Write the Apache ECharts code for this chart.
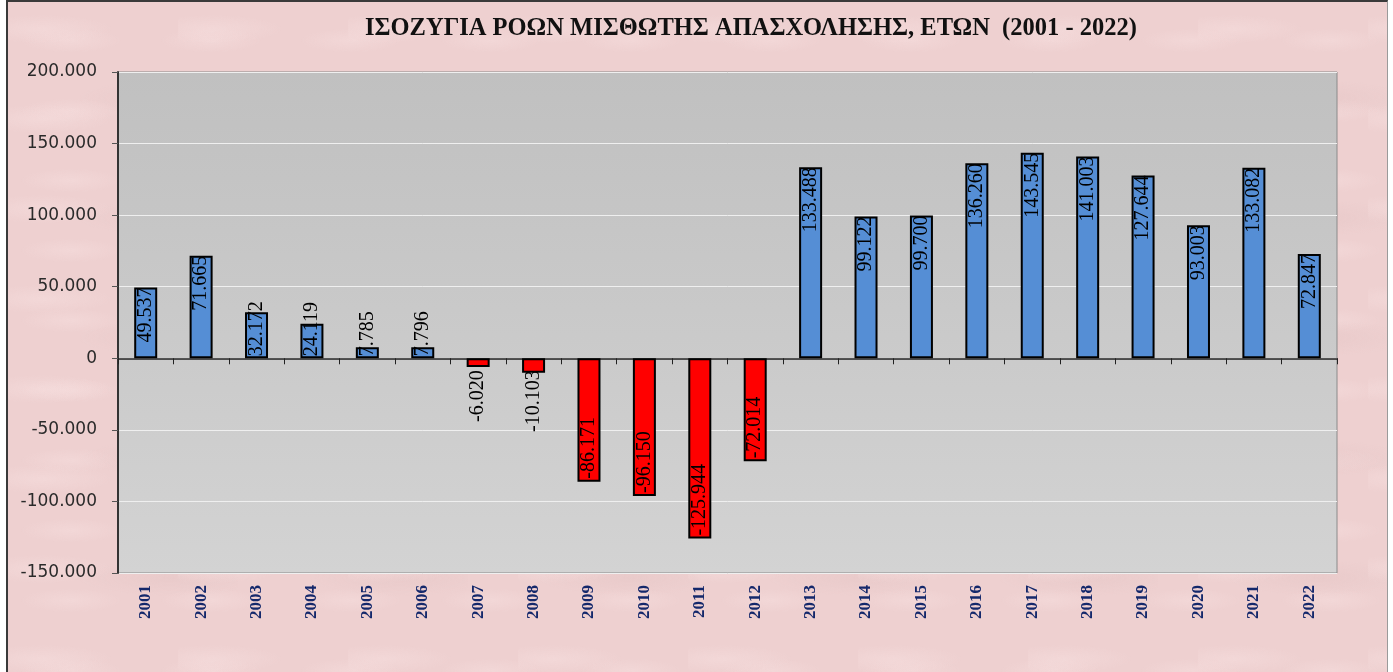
<!DOCTYPE html>
<html>
<head>
<meta charset="utf-8">
<script src="https://cdn.jsdelivr.net/npm/echarts@6/dist/echarts.min.js"></script>
<style>
  html, body { margin: 0; padding: 0; background: #fff; }
  #frame {
    position: absolute; left: 6px; top: 0; width: 1379px; height: 672px;
    border-left: 2px solid #3a3a3a; border-top: 2px solid #3a3a3a; border-right: 1px solid #9a9a9a;
    background-color: #eed0d0;
    background-image:
      radial-gradient(ellipse 70px 14px at 20% 30%, rgba(248,225,225,0.45), transparent),
      radial-gradient(ellipse 90px 18px at 70% 80%, rgba(222,190,190,0.3), transparent),
      radial-gradient(ellipse 50px 12px at 45% 55%, rgba(250,228,228,0.35), transparent);
    background-size: 170px 90px, 230px 120px, 140px 70px;
  }
  #main { position: absolute; left: 0; top: 0; width: 1393px; height: 672px; }
</style>
</head>
<body>
<div id="frame"></div>
<div id="main"></div>
<script>
var years = ['2001','2002','2003','2004','2005','2006','2007','2008','2009','2010','2011',
             '2012','2013','2014','2015','2016','2017','2018','2019','2020','2021','2022'];
var balance = [49537, 71665, 32172, 24119, 7785, 7796, -6020, -10103, -86171, -96150, -125944,
               -72014, 133488, 99122, 99700, 136260, 143545, 141003, 127644, 93003, 133082, 72847];

// 1.234.567 style
function fmt(v) {
    var s = String(Math.abs(v)).replace(/\B(?=(\d{3})+(?!\d))/g, '.');
    return (v < 0 ? '-' : '') + s;
}

var myChart = echarts.init(document.getElementById('main'));

var barData = balance.map(function (v) {
    var lbl;
    if (v >= 0) {
        lbl = v < 35000
            ? { position: 'insideBottom', align: 'left', distance: 2 }
            : { position: 'insideTop', align: 'right', distance: 0 };
    } else {
        lbl = v > -30000
            ? { position: 'insideTop', align: 'right', distance: 12 }
            : { position: 'insideBottom', align: 'left', distance: 3 };
    }
    return {
        value: v,
        itemStyle: { color: v < 0 ? '#ff0000' : '#558ed5' },
        label: lbl
    };
});

var option = {
    animation: false,
    backgroundColor: 'transparent',
    title: {
        text: 'ΙΣΟΖΥΓΙΑ ΡΟΩΝ ΜΙΣΘΩΤΗΣ ΑΠΑΣΧΟΛΗΣΗΣ, ΕΤΩΝ  (2001 - 2022)',
        left: 360,
        top: 11,
        textStyle: {
            fontFamily: 'Liberation Serif',
            fontWeight: 'bold',
            fontSize: 24.5,
            color: '#111'
        }
    },
    grid: {
        left: 118,
        right: 56,
        top: 72,
        bottom: 99,
        show: true,
        borderColor: '#8a8a8a',
        borderWidth: 1,
        backgroundColor: {
            type: 'linear', x: 0, y: 0, x2: 0, y2: 1,
            colorStops: [{ offset: 0, color: '#c0c0c0' }, { offset: 1, color: '#d3d3d3' }]
        }
    },
    xAxis: [{
        type: 'category',
        data: years,
        position: 'bottom',
        axisLine: { show: false, onZero: false },
        axisTick: { show: false },
        axisLabel: {
            rotate: 90,
            margin: 12,
            interval: 0,
            fontFamily: 'Liberation Serif',
            fontWeight: 'bold',
            fontSize: 17,
            color: '#14286b'
        },
        splitLine: { show: false }
    }, {
        type: 'category',
        data: years,
        position: 'bottom',
        axisLine: { show: true, onZero: true, lineStyle: { color: '#222', width: 1.5 } },
        axisTick: { show: true, length: 6, lineStyle: { color: '#222' } },
        axisLabel: { show: false },
        splitLine: { show: false }
    }],
    yAxis: {
        type: 'value',
        min: -150000,
        max: 200000,
        interval: 50000,
        axisLine: { show: true, lineStyle: { color: '#333', width: 2 } },
        axisTick: { show: true, length: 6, lineStyle: { color: '#555' } },
        axisLabel: {
            margin: 21,
            fontFamily: 'DejaVu Sans',
            fontSize: 17,
            color: '#2a2a2a',
            formatter: fmt
        },
        splitLine: { show: true, lineStyle: { color: '#efefef', width: 1 } }
    },
    series: [{
        type: 'bar',
        xAxisIndex: 0,
        barWidth: 23,
        data: barData,
        itemStyle: { borderColor: '#000', borderWidth: 2 },
        label: {
            show: true,
            rotate: 90,
            verticalAlign: 'middle',
            fontFamily: 'Liberation Serif',
            fontSize: 20,
            color: '#000',
            formatter: function (p) { return fmt(p.value); }
        }
    }]
};

myChart.setOption(option);
</script>
</body>
</html>
